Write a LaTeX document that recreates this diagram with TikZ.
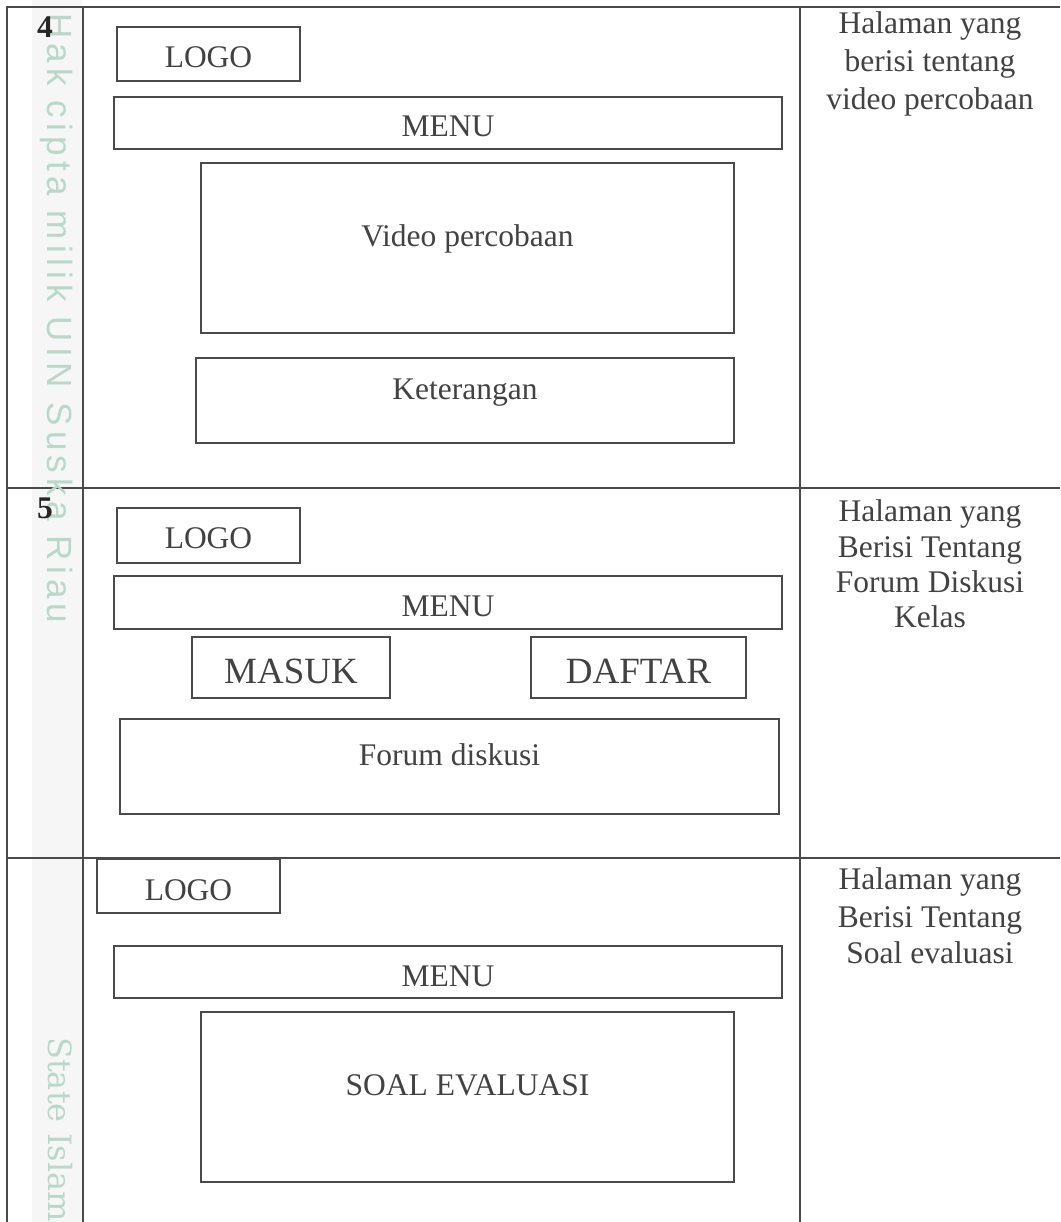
\documentclass[tikz,border=0pt]{standalone}
\usepackage{fontspec}
\setmainfont{Liberation Serif}
\newfontfamily\wmsans[LetterSpace=15]{Liberation Sans}
\newfontfamily\wmserif{DejaVu Serif}
\definecolor{linec}{RGB}{74,74,74}
\definecolor{textc}{RGB}{66,66,66}
\definecolor{wmgreen}{RGB}{184,217,202}
\definecolor{stripc}{RGB}{245,246,245}
\tikzset{
  wbox/.style={draw=linec, line width=2.5pt, inner sep=0pt, outer sep=0pt, anchor=north west},
  lbl/.style={text=textc, inner sep=0pt, anchor=base, font=\fontsize{31.5}{36}\selectfont},
  biglbl/.style={lbl, font=\fontsize{37}{42}\selectfont},
  desc/.style={lbl},
  tline/.style={draw=linec, line width=2pt},
  num/.style={text=black!85, inner sep=0pt, anchor=base west, font=\fontsize{31.5}{36}\selectfont\bfseries},
}
\begin{document}
\begin{tikzpicture}[x=1pt,y=-1pt]
\useasboundingbox (0,0) rectangle (1060,1222);
\fill[white] (0,0) rectangle (1060,1222);
% watermark strip
\fill[stripc] (32,0) rectangle (82,1222);
% table lines
\draw[tline] (7,7) -- (1060,7);
\draw[tline] (7,488) -- (1060,488);
\draw[tline] (7,858) -- (1060,858);
\draw[tline] (7,6) -- (7,1222);
\draw[tline] (83,7) -- (83,1222);
\draw[tline] (800,7) -- (800,1222);
% watermark texts
\node[rotate=-90, anchor=base west, inner sep=0pt, text=wmgreen, font=\fontsize{35}{40}\wmsans] (wmA) at (47,13) {Hak cipta milik UIN Suska Riau};
\node[rotate=-90, anchor=base west, inner sep=0pt, text=wmgreen, font=\fontsize{32}{36}\wmserif] (wmB) at (48,1037) {State Islam};
% numbers
\node[num] (n4) at (37,38) {4};
\node[num] (n5) at (37,518) {5};
% ---- row 4
\node[wbox, minimum width=183pt, minimum height=54pt] (logoA) at (117,27) {};
\node[wbox, minimum width=668pt, minimum height=52pt] (menuA) at (114,97) {};
\node[wbox, minimum width=533pt, minimum height=170pt] (videoA) at (201,163) {};
\node[wbox, minimum width=538pt, minimum height=85pt] (ketA) at (196,358) {};
\node[lbl] (logoAt) at (208.5,67.7) {LOGO};
\node[lbl] (menuAt) at (448,137) {MENU};
\node[lbl] (videoAt) at (467.5,247) {Video percobaan};
\node[lbl] (ketAt) at (465,399) {Keterangan};
\node[desc] (dA1) at (930,34) {Halaman yang};
\node[desc] (dA2) at (930,72) {berisi tentang};
\node[desc] (dA3) at (930,109.5) {video percobaan};
% ---- row 5
\node[wbox, minimum width=183pt, minimum height=55pt] (logoB) at (117,508) {};
\node[wbox, minimum width=668pt, minimum height=53pt] (menuB) at (114,576) {};
\node[wbox, minimum width=198pt, minimum height=61pt] (masukB) at (192,637) {};
\node[wbox, minimum width=215pt, minimum height=61pt] (daftarB) at (531,637) {};
\node[wbox, minimum width=659pt, minimum height=95pt] (forumB) at (120,719) {};
\node[lbl] (logoBt) at (208.5,548.6) {LOGO};
\node[lbl] (menuBt) at (448,616) {MENU};
\node[biglbl] (masukBt) at (291,683) {MASUK};
\node[biglbl] (daftarBt) at (638.5,683) {DAFTAR};
\node[lbl] (forumBt) at (449.5,765) {Forum diskusi};
\node[desc] (dB1) at (930,521) {Halaman yang};
\node[desc] (dB2) at (930,557.5) {Berisi Tentang};
\node[desc] (dB3) at (930,592.5) {Forum Diskusi};
\node[desc] (dB4) at (930,627.5) {Kelas};
% ---- row 6
\node[wbox, minimum width=183pt, minimum height=54pt] (logoC) at (97,859) {};
\node[wbox, minimum width=668pt, minimum height=52pt] (menuC) at (114,946) {};
\node[wbox, minimum width=533pt, minimum height=170pt] (soalC) at (201,1012) {};
\node[lbl] (logoCt) at (188.5,900) {LOGO};
\node[lbl] (menuCt) at (448,986) {MENU};
\node[lbl] (soalCt) at (467.5,1095) {SOAL EVALUASI};
\node[desc] (dC1) at (930,889) {Halaman yang};
\node[desc] (dC2) at (930,927) {Berisi Tentang};
\node[desc] (dC3) at (930,963) {Soal evaluasi};
\end{tikzpicture}
\end{document}
